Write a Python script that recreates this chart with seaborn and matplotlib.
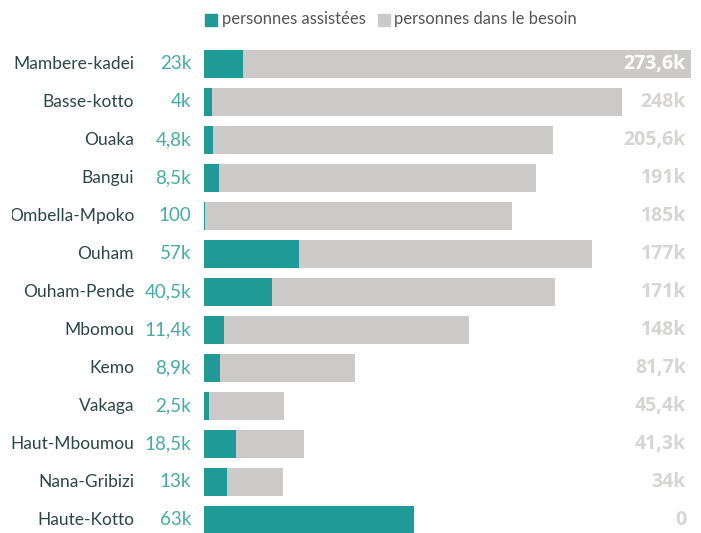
import matplotlib
matplotlib.use("Agg")
import matplotlib.pyplot as plt
from matplotlib.patches import Rectangle
from matplotlib.transforms import Bbox, TransformedBbox
import seaborn as sns
import pandas as pd

# donnees (en milliers)
regions = ['Mambere-kadei', 'Basse-kotto', 'Ouaka', 'Bangui', 'Ombella-Mpoko', 'Ouham',
           'Ouham-Pende', 'Mbomou', 'Kemo', 'Vakaga', 'Haut-Mboumou', 'Nana-Gribizi', 'Haute-Kotto']
assist_txt = ['23k', '4k', '4,8k', '8,5k', '100', '57k', '40,5k', '11,4k', '8,9k', '2,5k',
              '18,5k', '13k', '63k']
besoin_txt = ['273,6k', '248k', '205,6k', '191k', '185k', '177k', '171k', '148k', '81,7k',
              '45,4k', '41,3k', '34k', '0']
assist_bar = [23, 4.7, 5.3, 8.8, 0.6, 56, 40, 11.8, 9.4, 2.9, 18.8, 13.5, 123.5]
besoin_bar = [286, 245.7, 205.1, 195.1, 181.2, 228, 206.3, 155.9, 88.6, 46.9, 58.8, 46.3, 0]

TEAL = '#1f9a97'
GREY = '#cbcac8'
TXT_TEAL = '#46aba6'
TXT_DARK = '#2b4646'
TXT_LIGHT = '#d6d5d3'

df = pd.DataFrame({'region': regions, 'assist': assist_bar, 'besoin': besoin_bar})

sns.set_style('white')
plt.rcParams['font.family'] = ['Lato', 'DejaVu Sans']

fig = plt.figure(figsize=(7.01, 5.33), dpi=100)
W, H = 701, 533
ax = fig.add_axes([204 / W, 0, 486.7 / W, 1 - 45 / H])

sns.barplot(data=df, x='besoin', y='region', color=GREY, orient='h', width=0.737,
            saturation=1, linewidth=0, ax=ax)
sns.barplot(data=df, x='assist', y='region', color=TEAL, orient='h', width=0.737,
            saturation=1, linewidth=0, ax=ax)

ax.set_xlim(0, 286)
ax.set_ylim(12.35, -0.5)
ax.set_xlabel('')
ax.set_ylabel('')
ax.set_xticks([])
ax.set_yticks([])
sns.despine(ax=ax, left=True, bottom=True)

# zone de decoupe du texte a gauche
clip = TransformedBbox(Bbox([[12 / W, 0], [1, 1]]), fig.transFigure)

trans_lab = matplotlib.transforms.blended_transform_factory(fig.transFigure, ax.transData)
for i, r in enumerate(regions):
    t = ax.text(134 / W, i, r, transform=trans_lab, ha='right', va='center',
                fontsize=12.5, color=TXT_DARK)
    t.set_clip_box(clip)
    t.set_clip_on(True)
    ax.text(191 / W, i, assist_txt[i], transform=trans_lab, ha='right', va='center',
            fontsize=13.5, color=TXT_TEAL)
    ax.text(686 / W, i, besoin_txt[i], transform=trans_lab, ha='right', va='center',
            fontsize=14, fontweight='bold', family=['Open Sans', 'DejaVu Sans'],
            color='white' if i == 0 else TXT_LIGHT)

# legende en haut
fig.patches.append(Rectangle((205 / W, 1 - 26 / H), 12 / W, 12 / H, color=TEAL,
                             transform=fig.transFigure, figure=fig))
fig.text(222 / W, 1 - 19 / H, 'personnes assistées', fontsize=12, color='#555555',
         va='center', ha='left')
fig.patches.append(Rectangle((378 / W, 1 - 26 / H), 12 / W, 12 / H, color=GREY,
                             transform=fig.transFigure, figure=fig))
fig.text(394 / W, 1 - 19 / H, 'personnes dans le besoin', fontsize=12, color='#555555',
         va='center', ha='left')

fig.savefig('out.png', dpi=100)
